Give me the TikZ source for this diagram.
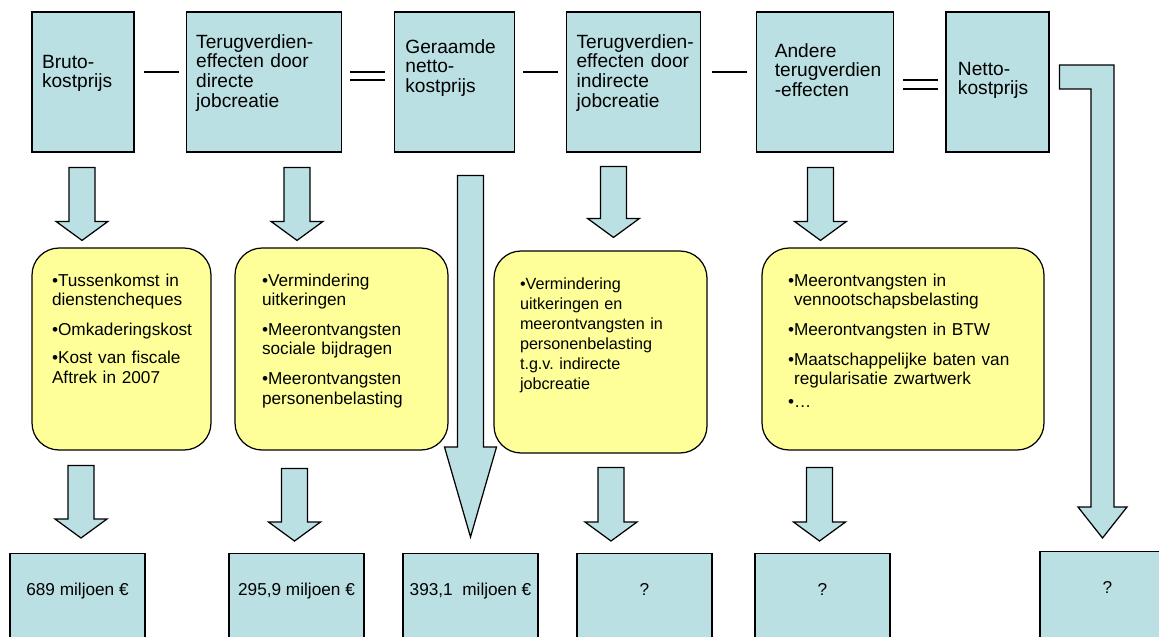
\documentclass[tikz,border=0pt]{standalone}
\usepackage{fontspec}
\setmainfont{Liberation Sans}
\usepackage{xcolor}
\usetikzlibrary{positioning,calc}
\definecolor{boxblue}{HTML}{BBE0E3}
\definecolor{noteyellow}{HTML}{FFFF99}
\hyphenpenalty=10000
\exhyphenpenalty=10000
\tikzstyle{topbox} = [rectangle, draw, fill=boxblue, line width=0.7pt, inner xsep=0.2cm, inner ysep=0pt, align=left, font=\fontsize{10.9}{11.34}\selectfont]
\tikzstyle{notebox} = [rectangle, rounded corners=0.54cm, draw, fill=noteyellow, line width=0.7pt, inner ysep=0pt, text height=0.76cm, text depth=3.28cm, align=left, font=\fontsize{9.8}{11.05}\selectfont]
\tikzstyle{valbox} = [rectangle, draw, fill=boxblue, line width=0.7pt, minimum width=2.7cm, inner ysep=0pt, text height=0.84cm, text depth=1.3cm, anchor=north, font=\fontsize{9.8}{11}\selectfont]
\tikzstyle{blkarrow} = [draw, fill=boxblue, line width=0.7pt]
\tikzstyle{opline} = [line width=1pt]
% block arrow: [head length]{x}{top}{tip}
\newcommand{\blkarrow}[4][0.38cm]{%
  \draw[blkarrow] let \p1=(#3), \p2=(#4) in
    (#2-13,\y1) -- (#2+13,\y1) -- (#2+13,\y2+#1) -- (#2+26,\y2+#1)
    -- (#2,\y2) -- (#2-26,\y2+#1) -- (#2-13,\y2+#1) -- cycle;}

\begin{document}
\begin{tikzpicture}[x=0.02cm, y=-0.02cm]
    \useasboundingbox (0,0) rectangle (1159,636);
    \clip (0,0) rectangle (1159,636);

    % Top row
    \node[topbox, text width=1.64cm, text height=1.12cm, text depth=1.68cm] (b1) at (83,82) {Bruto-\\kostprijs};
    \node[topbox, text width=2.7cm, text height=0.72cm, text depth=2.08cm, right=1.02cm of b1] (b2) {Terugverdien-\\effecten~door\\directe\\jobcreatie};
    \node[topbox, inner xsep=0.22cm, text width=1.96cm, text height=0.82cm, text depth=1.98cm, right=1.04cm of b2] (b3) {Geraamde\\netto-\\kostprijs};
    \node[topbox, text width=2.28cm, text height=0.72cm, text depth=2.08cm, right=1.02cm of b3] (b4) {Terugverdien-\\effecten~door\\indirecte\\jobcreatie};
    \node[topbox, inner xsep=0.36cm, text width=2.02cm, text height=0.9cm, text depth=1.9cm, right=1.1cm of b4] (b5) {Andere\\terugverdien\\-effecten};
    \node[topbox, inner xsep=0.24cm, text width=1.58cm, text height=1.26cm, text depth=1.54cm, right=1.02cm of b5] (b6) {Netto-\\kostprijs};

    % Operators
    \draw[opline] ($(b1.east)+(9,-10)$) -- ($(b2.west)+(-7,-10)$);
    \draw[opline] ($(b2.east)+(8,-10)$) -- ($(b3.west)+(-9,-10)$);
    \draw[opline] ($(b2.east)+(8,-2)$) -- ($(b3.west)+(-9,-2)$);
    \draw[opline] ($(b3.east)+(8,-10)$) -- ($(b4.west)+(-8,-10)$);
    \draw[opline] ($(b4.east)+(11,-10)$) -- ($(b5.west)+(-9,-10)$);
    \draw[opline] ($(b5.east)+(9,-2)$) -- ($(b6.west)+(-7,-2)$);
    \draw[opline] ($(b5.east)+(9,7)$) -- ($(b6.west)+(-7,7)$);

    % Notes
    \node[notebox, text width=2.78cm, inner xsep=0.4cm] (y1) at (121.5,349) {•Tussenkomst~in\\dienstencheques\\[6pt]•Omkaderingskost\\[5pt]•Kost van fiscale\\Aftrek in 2007};
    \node[notebox, text width=3.18cm, inner xsep=0.54cm] (y2) at (341.5,349) {•Vermindering\\uitkeringen\\[6pt]•Meerontvangsten\\sociale bijdragen\\[6pt]•Meerontvangsten\\personenbelasting};
    \node[notebox, text width=3.22cm, inner xsep=0.52cm, font=\fontsize{9.2}{11.4}\selectfont] (y3) at (600.5,352) {•Vermindering\\uitkeringen~en\\meerontvangsten~in\\personenbelasting\\t.g.v.~indirecte\\jobcreatie};
    \node[notebox, text width=4.6cm, inner xsep=0.52cm] (y4) at (903,349) {•Meerontvangsten in\\\phantom{•}vennootschapsbelasting\\[6pt]•Meerontvangsten in BTW\\[6pt]•Maatschappelijke baten~van\\\phantom{•}regularisatie zwartwerk\\[2pt]•…};

    % Results
    \node[valbox] (v1) at (77.5,553) {689 miljoen €};
    \node[valbox] (v2) at (296.5,553) {295,9 miljoen €};
    \node[valbox] (v3) at (470.5,553) {393,1\ \ miljoen €};
    \node[valbox] (v4) at (644.5,553) {?};
    \node[valbox] (v5) at (822.5,553) {?};
    \node[valbox] (v6) at (1107.5,551) {?};

    % Arrows
    \blkarrow{82}{$(b1.south)+(0,15)$}{$(y1.north)+(0,-7)$}
    \blkarrow{297}{$(b2.south)+(0,15)$}{$(y2.north)+(0,-7)$}
    \blkarrow[1.8cm]{470.5}{$(b3.south)+(0,23)$}{$(v3.north)+(0,-16)$}
    \blkarrow{613.5}{$(b4.south)+(0,14)$}{$(y3.north)+(0,-13)$}
    \blkarrow{820.5}{$(b5.south)+(0,15)$}{$(y4.north)+(0,-7)$}
    \blkarrow{81}{$(y1.south)+(0,15)$}{$(v1.north)+(0,-15)$}
    \blkarrow{294.5}{$(y2.south)+(0,18)$}{$(v2.north)+(0,-12)$}
    \blkarrow{611}{$(y3.south)+(0,14)$}{$(v4.north)+(0,-12)$}
    \blkarrow{819.5}{$(y4.south)+(0,17)$}{$(v5.north)+(0,-12)$}
    \draw[blkarrow] let \p1=($(b6.east)+(10,-17)$), \p2=($(v6.north)+(0,-13)$) in
        (\x1,\y1) -- (1114,\y1) -- (1114,\y2+0.62cm) -- (1127,\y2+0.62cm) -- (1102.5,\y2)
        -- (1078,\y2+0.62cm) -- (1091,\y2+0.62cm) -- (1091,\y1-0.48cm) -- (\x1,\y1-0.48cm) -- cycle;
\end{tikzpicture}
\end{document}
